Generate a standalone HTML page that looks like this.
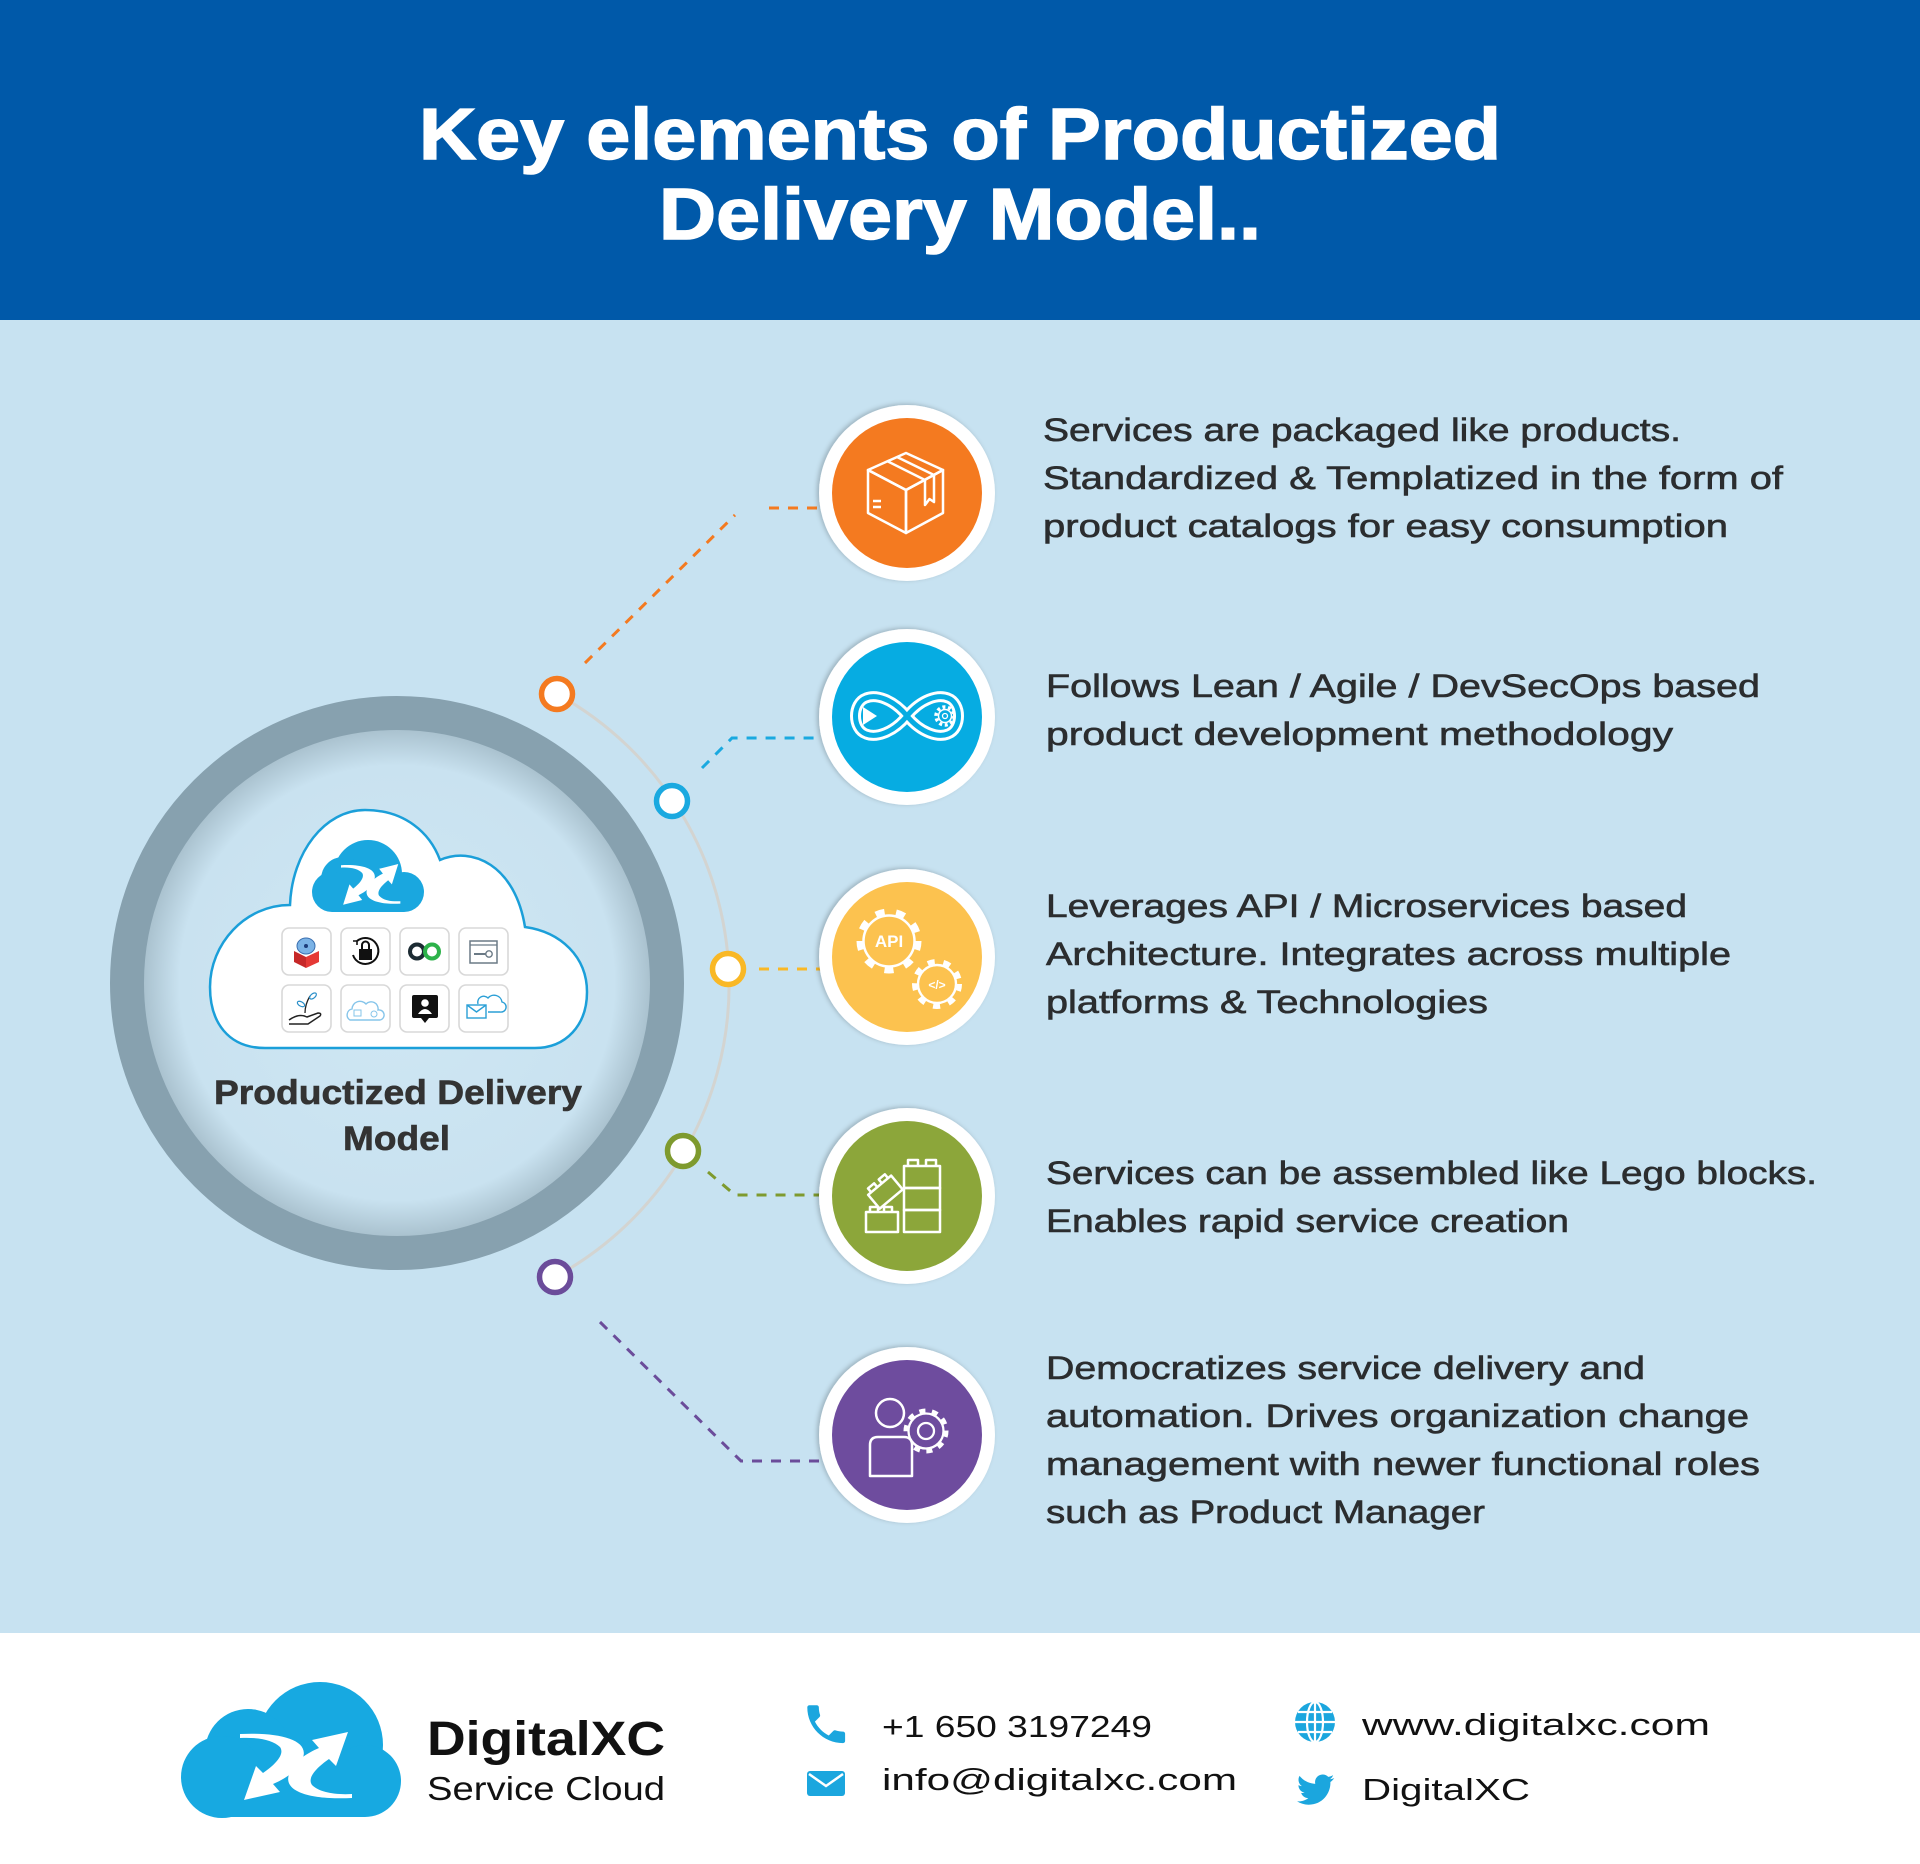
<!DOCTYPE html>
<html>
<head>
<meta charset="utf-8">
<style>
html,body{margin:0;padding:0;background:#fff;}
svg{display:block;}
text{font-family:"Liberation Sans",Arial,sans-serif;}
</style>
</head>
<body>
<svg width="1920" height="1864" viewBox="0 0 1920 1864" xmlns="http://www.w3.org/2000/svg">
<defs>
  <radialGradient id="disc" cx="397" cy="983" r="253" gradientUnits="userSpaceOnUse">
    <stop offset="0" stop-color="#cfe7f4"/>
    <stop offset="0.86" stop-color="#c9e2f0"/>
    <stop offset="1" stop-color="#aac2cf"/>
  </radialGradient>
  <filter id="sh" x="-20%" y="-20%" width="140%" height="140%">
    <feDropShadow dx="-2" dy="-1" stdDeviation="2.5" flood-color="#000" flood-opacity="0.22"/>
  </filter>
  <path id="larr" d="M0,2 C40,0 72,8 62,28 C57,39 45,47 33,52 L40,60 L4,68 L16,34 L23,41 C36,32 45,22 40,15 C33,8 18,5 0,6 Z"/>
  <g id="xarr">
    <use href="#larr"/>
    <use href="#larr" transform="rotate(180 56 34)"/>
  </g>
</defs>

<!-- backgrounds -->
<rect x="0" y="0" width="1920" height="320" fill="#0059A9"/>
<rect x="0" y="320" width="1920" height="1313" fill="#C7E2F1"/>
<rect x="0" y="1633" width="1920" height="231" fill="#FFFFFF"/>

<!-- title -->
<g fill="#fff" stroke="#fff" stroke-width="1.5">
<text x="419" y="159" font-size="72" font-weight="bold" textLength="1082" lengthAdjust="spacingAndGlyphs">Key elements of Productized</text>
<text x="659" y="239" font-size="72" font-weight="bold" textLength="602" lengthAdjust="spacingAndGlyphs">Delivery Model..</text>
</g>

<!-- big circle -->
<circle cx="397" cy="983" r="256" fill="url(#disc)"/>
<circle cx="397" cy="983" r="270" fill="none" stroke="#87A1AF" stroke-width="34"/>

<!-- arc -->
<path d="M557,694 A332,332 0 0 1 555,1277" fill="none" stroke="#D3D4D1" stroke-width="3"/>

<!-- connectors -->
<g fill="none" stroke-width="3" stroke-dasharray="10 9">
  <path d="M585,663 L735,515" stroke="#F47A20"/>
  <path d="M769,508 L822,508" stroke="#F47A20"/>
  <path d="M702,768 L732,738 L822,738" stroke="#1AA9E0"/>
  <path d="M759,969 L822,969" stroke="#F9B826"/>
  <path d="M708,1172 L735,1195 L822,1195" stroke="#7E9A2E"/>
  <path d="M600,1322 L741,1461 L822,1461" stroke="#6B4C9A"/>
</g>

<!-- small circles -->
<g fill="#fff" stroke-width="5.5">
  <circle cx="557" cy="694" r="15.5" stroke="#F47A20"/>
  <circle cx="672" cy="801" r="15.5" stroke="#1AA9E0"/>
  <circle cx="728" cy="969" r="15.5" stroke="#F9B826"/>
  <circle cx="683" cy="1151" r="15.5" stroke="#7E9A2E"/>
  <circle cx="555" cy="1277" r="15.5" stroke="#6B4C9A"/>
</g>

<!-- center cloud -->
<path d="M265,1048 C228,1048 210,1022 210,987 C210,944 245,905 290,905 C292,852 325,810 365,810 C405,810 430,833 440,860 C472,846 515,865 525,927 C561,932 587,957 587,992 C587,1025 566,1048 535,1048 Z" fill="#fff" stroke="#1B9FD9" stroke-width="2.5"/>
<!-- small blue logo cloud -->
<g fill="#1AA7DF">
  <circle cx="368" cy="874" r="34"/>
  <circle cx="343" cy="879" r="22"/>
  <circle cx="332" cy="892" r="20"/>
  <circle cx="404" cy="892" r="20"/>
  <rect x="332" y="880" width="72" height="32"/>
</g>
<g fill="#fff" transform="translate(341,864) scale(0.53,0.6)"><use href="#xarr"/></g>

<!-- icon grid -->
<g fill="#fff" stroke="#D8D8D8" stroke-width="1.6">
  <rect x="282" y="928" width="49" height="47" rx="7"/>
  <rect x="341" y="928" width="49" height="47" rx="7"/>
  <rect x="400" y="928" width="49" height="47" rx="7"/>
  <rect x="459" y="928" width="49" height="47" rx="7"/>
  <rect x="282" y="985" width="49" height="47" rx="7"/>
  <rect x="341" y="985" width="49" height="47" rx="7"/>
  <rect x="400" y="985" width="49" height="47" rx="7"/>
  <rect x="459" y="985" width="49" height="47" rx="7"/>
</g>
<!-- icon 1 -->
<ellipse cx="306" cy="946" rx="9" ry="8" fill="#7BB3E6" stroke="#3A6FB0" stroke-width="1"/>
<circle cx="306" cy="946" r="2" fill="#1d3d7a"/>
<polygon points="294,951 306,957 306,968 294,962" fill="#C62828"/>
<polygon points="306,957 319,951 319,962 306,968" fill="#E53935"/>
<!-- icon 2 -->
<path d="M357,941 A13,13 0 1 1 353,955" fill="none" stroke="#111" stroke-width="2"/>
<path d="M353,941 l4,0 l0,4" fill="none" stroke="#111" stroke-width="1.6"/>
<path d="M362,949 v-4 a3.5,3.5 0 0 1 7,0 v4" fill="none" stroke="#111" stroke-width="2"/>
<rect x="359" y="949" width="13" height="11" fill="#111"/>
<!-- icon 3 -->
<circle cx="417" cy="951.5" r="7" fill="none" stroke="#1C2B33" stroke-width="4"/>
<circle cx="432" cy="951.5" r="7" fill="none" stroke="#2DB24A" stroke-width="4"/>
<!-- icon 4 -->
<rect x="470" y="941" width="27" height="22" fill="none" stroke="#6B7A86" stroke-width="1.5"/>
<line x1="470" y1="945" x2="497" y2="945" stroke="#6B7A86" stroke-width="1.2"/>
<circle cx="489" cy="954" r="3.2" fill="none" stroke="#6B7A86" stroke-width="1.4"/>
<line x1="474" y1="954" x2="486" y2="954" stroke="#6B7A86" stroke-width="2"/>
<!-- icon 5 -->
<path d="M289,1020 q10,-7 18,-3 l11,-4 q4,0 2,3 l-12,8 h-19" fill="none" stroke="#222" stroke-width="1.5"/>
<path d="M305,1013 C305,1006 307,1001 310,996" fill="none" stroke="#222" stroke-width="1.3"/>
<ellipse cx="301" cy="1004" rx="4" ry="2.2" fill="none" stroke="#2a8fc9" stroke-width="1.2" transform="rotate(30 301 1004)"/>
<ellipse cx="313" cy="996" rx="4" ry="2.2" fill="none" stroke="#2a8fc9" stroke-width="1.2" transform="rotate(-40 313 996)"/>
<!-- icon 6 -->
<path d="M350,1020 a6,6 0 0 1 2,-11 a8,8 0 0 1 14,-5 a7,7 0 0 1 12,6 a5,5 0 0 1 2,10 Z" fill="none" stroke="#86C5EA" stroke-width="1.4"/>
<rect x="354" y="1010" width="7" height="6" fill="none" stroke="#86C5EA" stroke-width="1"/>
<circle cx="374" cy="1014" r="3" fill="none" stroke="#86C5EA" stroke-width="1"/>
<!-- icon 7 -->
<rect x="412" y="995" width="26" height="23" rx="2" fill="#111"/>
<polygon points="421,1018 429,1018 425,1023" fill="#111"/>
<circle cx="425" cy="1003" r="3.8" fill="#fff"/>
<path d="M418,1014 q7,-10 14,0 Z" fill="#fff"/>
<!-- icon 8 -->
<path d="M478,1004 a6,6 0 0 1 10,-6 a8,8 0 0 1 14,4 a5,5 0 0 1 -2,10 h-12" fill="none" stroke="#2A9FD6" stroke-width="1.4"/>
<rect x="467" y="1005" width="19" height="13" fill="#fff" stroke="#2A9FD6" stroke-width="1.4"/>
<path d="M467,1005 l9.5,7 l9.5,-7" fill="none" stroke="#2A9FD6" stroke-width="1.4"/>

<!-- center label -->
<g fill="#333" stroke="#333" stroke-width="0.6">
<text x="214" y="1104" font-size="34" font-weight="bold" textLength="368" lengthAdjust="spacingAndGlyphs">Productized Delivery</text>
<text x="343" y="1150" font-size="34" font-weight="bold" textLength="107" lengthAdjust="spacingAndGlyphs">Model</text>
</g>

<!-- icon circles -->
<g filter="url(#sh)" fill="#fff">
  <circle cx="907" cy="493" r="88"/>
  <circle cx="907" cy="717" r="88"/>
  <circle cx="907" cy="957" r="88"/>
  <circle cx="907" cy="1196" r="88"/>
  <circle cx="907" cy="1435" r="88"/>
</g>
<circle cx="907" cy="493" r="75" fill="#F47A20"/>
<circle cx="907" cy="717" r="75" fill="#06ACE2"/>
<circle cx="907" cy="957" r="75" fill="#FCC24F"/>
<circle cx="907" cy="1196" r="75" fill="#8CA63A"/>
<circle cx="907" cy="1435" r="75" fill="#6E4C9E"/>

<!-- box icon -->
<g fill="none" stroke="#fff" stroke-width="2.5" stroke-linejoin="round">
  <polygon points="868,470 906,453 943,470 906,490"/>
  <polygon points="868,470 906,490 906,533 868,513"/>
  <polygon points="906,490 943,470 943,513 906,533"/>
  <path d="M887,461 L925,480 L925,505 L929.5,499 L934,502 L934,475 L897,457"/>
  <path d="M873,501 h8 M873,507 h8"/>
</g>

<!-- infinity icon -->
<path d="M907,716 C893,699 876,694 866,698 C852,703 852,729 866,734 C876,738 893,733 907,716 C921,699 938,694 948,698 C962,703 962,729 948,734 C938,738 921,733 907,716 Z" fill="none" stroke="#fff" stroke-width="11"/>
<path d="M907,716 C893,699 876,694 866,698 C852,703 852,729 866,734 C876,738 893,733 907,716 C921,699 938,694 948,698 C962,703 962,729 948,734 C938,738 921,733 907,716 Z" fill="none" stroke="#06ACE2" stroke-width="5"/>
<polygon points="863,707 863,725 877,716" fill="#fff"/>
<circle cx="945" cy="716" r="9" fill="none" stroke="#fff" stroke-width="3.5" stroke-dasharray="3 2.65"/>
<circle cx="945" cy="716" r="6.5" fill="#06ACE2" stroke="#fff" stroke-width="1.5"/>
<circle cx="945" cy="716" r="2.5" fill="none" stroke="#fff" stroke-width="1.3"/>

<!-- API gears -->
<circle cx="889" cy="941" r="29" fill="none" stroke="#fff" stroke-width="7" stroke-dasharray="9 11.5"/>
<circle cx="889" cy="941" r="25.5" fill="#FCC24F" stroke="#fff" stroke-width="2.5"/>
<text x="889" y="947" font-size="17" font-weight="bold" fill="#fff" text-anchor="middle">API</text>
<circle cx="937" cy="984" r="22" fill="none" stroke="#fff" stroke-width="6" stroke-dasharray="7 8.7"/>
<circle cx="937" cy="984" r="19" fill="#FCC24F" stroke="#fff" stroke-width="2.4"/>
<text x="937" y="989" font-size="12" font-weight="bold" fill="#fff" text-anchor="middle">&lt;/&gt;</text>

<!-- lego icon -->
<g fill="none" stroke="#fff" stroke-width="2.5" stroke-linejoin="round">
  <rect x="904" y="1166" width="36" height="22"/>
  <rect x="904" y="1188" width="36" height="22"/>
  <rect x="904" y="1210" width="36" height="22"/>
  <path d="M908,1166 v-6 h10 v6 M926,1166 v-6 h10 v6"/>
  <rect x="866" y="1212" width="32" height="20"/>
  <path d="M870,1212 v-5 h8 v5 M884,1212 v-5 h8 v5"/>
  <g transform="rotate(-40 884 1192)">
    <rect x="870" y="1184" width="30" height="18"/>
    <path d="M874,1184 v-5 h8 v5 M888,1184 v-5 h8 v5"/>
  </g>
</g>

<!-- person + gear icon -->
<circle cx="926" cy="1431" r="20" fill="none" stroke="#fff" stroke-width="5" stroke-dasharray="6 6.5"/>
<circle cx="926" cy="1431" r="17.5" fill="#6E4C9E" stroke="#fff" stroke-width="2.3"/>
<circle cx="926" cy="1431" r="8" fill="none" stroke="#fff" stroke-width="2.3"/>
<circle cx="890" cy="1413" r="14" fill="#6E4C9E" stroke="#fff" stroke-width="2.5"/>
<path d="M870,1476 V1445 q0,-8 8,-8 h26 q8,0 8,8 V1476 Z" fill="#6E4C9E" stroke="#fff" stroke-width="2.5" stroke-linejoin="round"/>

<!-- body text -->
<g font-size="32" fill="#2B2D2F" stroke="#2B2D2F" stroke-width="0.6">
  <text x="1043" y="441" textLength="638" lengthAdjust="spacingAndGlyphs">Services are packaged like products.</text>
  <text x="1043" y="489" textLength="740" lengthAdjust="spacingAndGlyphs">Standardized &amp; Templatized in the form of</text>
  <text x="1043" y="537" textLength="685" lengthAdjust="spacingAndGlyphs">product catalogs for easy consumption</text>

  <text x="1046" y="697" textLength="714" lengthAdjust="spacingAndGlyphs">Follows Lean / Agile / DevSecOps based</text>
  <text x="1046" y="745" textLength="627" lengthAdjust="spacingAndGlyphs">product development methodology</text>

  <text x="1046" y="917" textLength="641" lengthAdjust="spacingAndGlyphs">Leverages API / Microservices based</text>
  <text x="1046" y="965" textLength="685" lengthAdjust="spacingAndGlyphs">Architecture. Integrates across multiple</text>
  <text x="1046" y="1013" textLength="442" lengthAdjust="spacingAndGlyphs">platforms &amp; Technologies</text>

  <text x="1046" y="1184" textLength="771" lengthAdjust="spacingAndGlyphs">Services can be assembled like Lego blocks.</text>
  <text x="1046" y="1232" textLength="523" lengthAdjust="spacingAndGlyphs">Enables rapid service creation</text>

  <text x="1046" y="1379" textLength="599" lengthAdjust="spacingAndGlyphs">Democratizes service delivery and</text>
  <text x="1046" y="1427" textLength="703" lengthAdjust="spacingAndGlyphs">automation. Drives organization change</text>
  <text x="1046" y="1475" textLength="714" lengthAdjust="spacingAndGlyphs">management with newer functional roles</text>
  <text x="1046" y="1523" textLength="439" lengthAdjust="spacingAndGlyphs">such as Product Manager</text>
</g>

<!-- footer logo -->
<g fill="#17A9E1">
  <circle cx="320" cy="1745" r="63"/>
  <circle cx="248" cy="1752" r="43"/>
  <circle cx="222" cy="1777" r="41"/>
  <circle cx="365" cy="1781" r="36"/>
  <rect x="222" y="1760" width="143" height="57"/>
</g>
<g fill="#fff" transform="translate(240,1732)"><use href="#xarr"/></g>

<text x="427" y="1755" font-size="48" font-weight="bold" fill="#111" textLength="238" lengthAdjust="spacingAndGlyphs">DigitalXC</text>
<text x="427" y="1800" font-size="33" fill="#111" textLength="238" lengthAdjust="spacingAndGlyphs">Service Cloud</text>

<!-- phone icon -->
<path transform="translate(801,1699) scale(2.1)" fill="#1BA6DE" d="M6.62 10.79c1.44 2.83 3.76 5.14 6.59 6.59l2.2-2.2c.27-.27.67-.36 1.02-.24 1.120.37 2.330.57 3.570.57.55 0 1 .45 1 1V20c0 .55-.45 1-1 1-9.390 0-17-7.61-17-17 0-.55.45-1 1-1h3.5c.55 0 1 .45 1 1 0 1.25.2 2.45.57 3.57.11.35.03.74-.25 1.02l-2.2 2.2z"/>
<!-- mail icon -->
<rect x="807" y="1771" width="38" height="25" rx="3" fill="#1BA6DE"/>
<path d="M809,1774 l17,12 l17,-12" fill="none" stroke="#fff" stroke-width="2.5"/>
<!-- globe icon -->
<circle cx="1315" cy="1722" r="20" fill="#1BA6DE"/>
<g fill="none" stroke="#fff" stroke-width="2.2">
  <ellipse cx="1315" cy="1722" rx="8" ry="20"/>
  <line x1="1315" y1="1702" x2="1315" y2="1742"/>
  <line x1="1295" y1="1722" x2="1335" y2="1722"/>
  <line x1="1298" y1="1712" x2="1332" y2="1712"/>
  <line x1="1298" y1="1732" x2="1332" y2="1732"/>
</g>
<!-- twitter icon -->
<path transform="translate(1297,1771) scale(1.55)" fill="#1BA6DE" d="M23.954 4.569c-.885.389-1.83.654-2.825.775 1.014-.611 1.794-1.574 2.163-2.723-.951.555-2.005.959-3.127 1.184-.896-.959-2.173-1.559-3.591-1.559-2.717 0-4.92 2.203-4.920 4.917 0 .39.045.765.127 1.124C7.691 8.094 4.066 6.13 1.64 3.161c-.427.722-.666 1.561-.666 2.475 0 1.71.87 3.213 2.188 4.096-.807-.026-1.566-.248-2.228-.616v.061c0 2.385 1.693 4.374 3.946 4.827-.413.111-.849.171-1.296.171-.314 0-.615-.03-.916-.086.631 1.953 2.445 3.377 4.604 3.417-1.68 1.319-3.809 2.105-6.102 2.105-.39 0-.779-.023-1.17-.067 2.189 1.394 4.768 2.209 7.557 2.209 9.054 0 13.999-7.496 13.999-13.986 0-.209 0-.42-.015-.63.961-.689 1.8-1.56 2.46-2.548l-.047-.02z"/>

<g font-size="31" fill="#111">
  <text x="882" y="1737" textLength="270" lengthAdjust="spacingAndGlyphs">+1 650 3197249</text>
  <text x="882" y="1790" textLength="355" lengthAdjust="spacingAndGlyphs">info@digitalxc.com</text>
  <text x="1362" y="1735" textLength="348" lengthAdjust="spacingAndGlyphs">www.digitalxc.com</text>
  <text x="1362" y="1800" textLength="168" lengthAdjust="spacingAndGlyphs">DigitalXC</text>
</g>
</svg>
</body>
</html>
